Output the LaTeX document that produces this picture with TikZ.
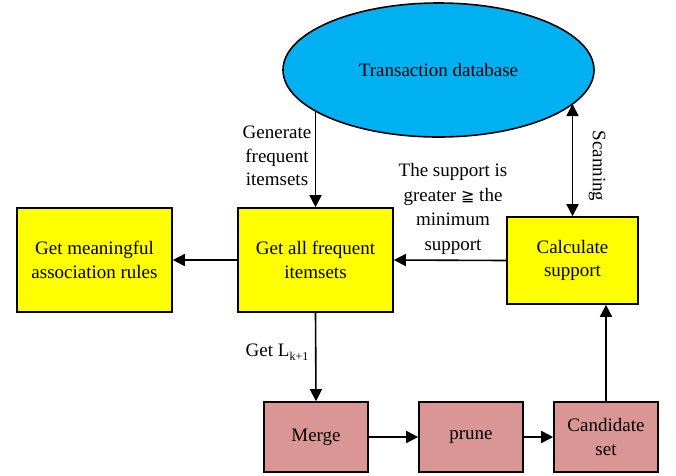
\documentclass[tikz,border=0pt]{standalone}
\usepackage{fontspec}
\setmainfont{Liberation Serif}
\newfontfamily\serf{Liberation Serif}
\newfontfamily\symf{DejaVu Sans}
\usetikzlibrary{shapes.geometric,arrows.meta}
\definecolor{dbblue}{HTML}{00B0F0}
\definecolor{boxyellow}{HTML}{FFFF00}
\definecolor{boxpink}{HTML}{D99694}
\begin{document}
\begin{tikzpicture}[x=1pt,y=-1pt,
  every node/.style={font=\serf\fontsize{19}{23.5}\selectfont},
  ybox/.style={draw, line width=1.6pt, fill=boxyellow, align=center, inner sep=0pt},
  pbox/.style={draw, line width=1.6pt, fill=boxpink, align=center, inner sep=0pt, minimum width=104pt, minimum height=70pt},
  conn/.style={line width=1.6pt, -{Triangle[length=12pt,width=12pt]}},
  biconn/.style={line width=1.6pt, {Triangle[length=12pt,width=12pt]}-{Triangle[length=12pt,width=12pt]}},
  lbl/.style={align=center, inner sep=0pt}]
\useasboundingbox (0,0) rectangle (676,475);
\node[ellipse, draw, line width=1.6pt, fill=dbblue, minimum width=311pt, minimum height=134pt, inner sep=0pt] (db) at (438.5,70) {Transaction database};
\node[ybox, minimum width=155pt, minimum height=104pt] (rules) at (94.5,260) {Get meaningful\\association rules};
\node[ybox, minimum width=155pt, minimum height=104pt] (freq) at (315.5,260) {Get all frequent\\itemsets};
\node[ybox, minimum width=131pt, minimum height=87pt] (calc) at (572.5,260.5) {Calculate\\support};
\node[pbox] (merge) at (316,437) {Merge};
\node[pbox] (prune) at (471,437) {prune};
\node[pbox] (cand) at (606,437) {Candidate\\set};
\coordinate (gtop) at (315.5,111);
\coordinate (stop) at (572.5,104);
\draw[conn] (gtop) -- (freq.north);
\draw[biconn] (stop) -- (calc.north);
\draw[conn] (calc.west) -- (freq.east);
\draw[conn] (freq.west) -- (rules.east);
\draw[conn] (freq.south) -- (merge.north);
\draw[conn] (merge.east) -- (prune.west);
\draw[conn] (prune.east) -- (cand.west);
\draw[conn] (cand.north) -- (cand.north |- calc.south);
\node[lbl] (lgen) at (277,156) {Generate\\frequent\\itemsets};
\node[lbl, font=\serf\fontsize{19}{24.5}\selectfont] (lsup) at (453,209) {The support is\\greater {\symf\fontsize{16}{16}\selectfont ≧} the\\minimum\\support};
\node[lbl] (lget) at (277,352) {Get L\raisebox{-0.4ex}{\fontsize{12}{12}\selectfont k+1}};
\node[lbl, rotate=-90] (lscan) at (597,166) {Scanning};
\end{tikzpicture}
\end{document}
